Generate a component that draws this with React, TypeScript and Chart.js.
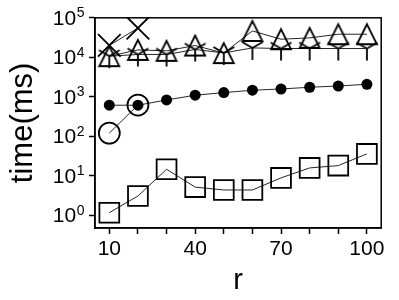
import React, { useEffect, useRef } from "react";
import { Chart, registerables } from "chart.js";

Chart.register(...registerables);

// ---- data ----
const rValues = [10, 20, 30, 40, 50, 60, 70, 80, 90, 100];
const squareTimes = [1.17, 3.1, 14.7, 5.2, 4.4, 4.4, 8.9, 15.9, 18.2, 36];
const dotTimes = [614, 614, 834, 1100, 1280, 1470, 1580, 1750, 1880, 2080];
const openCircleR = [10, 20];
const openCircleTimes = [121, 620];
const crossR = [10, 20];
const crossTimes = [20000, 55000];
const triangleTimes = [10700, 15400, 14600, 19900, 12800, 46500, 28700, 31000, 38400, 38400];
const triDownTimes = [10700, 11800, 11800, 15800, 12900, 17300, 16700, 16700, 16700, 16700];
const xTickValues = [10, 20, 30, 40, 50, 60, 70, 80, 90, 100];
const xLabelValues = [10, 40, 70, 100];
const yTickValues = [1, 10, 100, 1000, 10000, 100000];
const yTickBase = "10";
const yTickExponents = ["0", "1", "2", "3", "4", "5"];

const FONT = "'Liberation Sans', Arial, Helvetica, sans-serif";

function makeTriangle(): HTMLCanvasElement {
  const c = document.createElement("canvas");
  c.width = 24;
  c.height = 24;
  const ctx = c.getContext("2d")!;
  ctx.strokeStyle = "#000";
  ctx.lineWidth = 1.8;
  ctx.lineJoin = "miter";
  ctx.beginPath();
  ctx.moveTo(12, 2);
  ctx.lineTo(2, 22);
  ctx.lineTo(22, 22);
  ctx.closePath();
  ctx.stroke();
  return c;
}

function makeTriDown(): HTMLCanvasElement {
  const c = document.createElement("canvas");
  c.width = 28;
  c.height = 28;
  const ctx = c.getContext("2d")!;
  ctx.strokeStyle = "#000";
  ctx.lineWidth = 1.8;
  ctx.beginPath();
  ctx.moveTo(14, 14);
  ctx.lineTo(14, 26);
  ctx.moveTo(14, 14);
  ctx.lineTo(14 - 10.4, 14 - 6);
  ctx.moveTo(14, 14);
  ctx.lineTo(14 + 10.4, 14 - 6);
  ctx.stroke();
  return c;
}

const framePlugin = {
  id: "frame",
  afterDraw(chart: any) {
    const { ctx, chartArea } = chart;
    ctx.save();
    ctx.strokeStyle = "#000";
    ctx.lineWidth = 1.5;
    ctx.strokeRect(chartArea.left, chartArea.top, chartArea.right - chartArea.left, chartArea.bottom - chartArea.top);
    ctx.restore();
  },
};

// draws y tick labels as 10 with a raised exponent
const powerLabelPlugin = {
  id: "powerLabels",
  afterDraw(chart: any) {
    const { ctx } = chart;
    const yScale = chart.scales.y;
    const rightEdge = yScale.right - 6 - 5;
    ctx.save();
    ctx.fillStyle = "#000";
    ctx.textBaseline = "alphabetic";
    yTickValues.forEach((v, i) => {
      const py = yScale.getPixelForValue(v);
      const exp = yTickExponents[i];
      ctx.font = `14px ${FONT}`;
      const expW = ctx.measureText(exp).width;
      ctx.textAlign = "right";
      ctx.fillText(exp, rightEdge + 0.5, py - 0.5);
      ctx.font = `21px ${FONT}`;
      ctx.fillText(yTickBase, rightEdge + 0.5 - expW - 0.5, py + 7);
    });
    ctx.restore();
  },
};

export default function App() {
  const ref = useRef<HTMLCanvasElement | null>(null);

  useEffect(() => {
    if (!ref.current) return;
    const tri = makeTriangle();
    const triDown = makeTriDown();
    const lineColor = "rgba(0,0,0,0.85)";

    const chart = new Chart(ref.current, {
      type: "line",
      data: {
        datasets: [
          {
            label: "square",
            data: rValues.map((r, i) => ({ x: r, y: squareTimes[i] })),
            borderColor: lineColor,
            borderWidth: 1,
            pointStyle: "rect",
            pointRadius: 14,
            pointBorderWidth: 1.8,
            pointBorderColor: "#000",
            pointBackgroundColor: "rgba(0,0,0,0)",
          },
          {
            label: "dot",
            data: rValues.map((r, i) => ({ x: r, y: dotTimes[i] })),
            borderColor: lineColor,
            borderWidth: 1,
            pointStyle: "circle",
            pointRadius: 5.5,
            pointBorderWidth: 0,
            pointBackgroundColor: "#000",
          },
          {
            label: "open circle",
            data: openCircleR.map((r, i) => ({ x: r, y: openCircleTimes[i] })),
            borderColor: lineColor,
            borderWidth: 1,
            pointStyle: "circle",
            pointRadius: 10.5,
            pointBorderWidth: 1.8,
            pointBorderColor: "#000",
            pointBackgroundColor: "rgba(0,0,0,0)",
          },
          {
            label: "cross",
            data: crossR.map((r, i) => ({ x: r, y: crossTimes[i] })),
            borderColor: lineColor,
            borderWidth: 1,
            pointStyle: "crossRot",
            pointRadius: 16,
            pointBorderWidth: 1.8,
            pointBorderColor: "#000",
          },
          {
            label: "triangle",
            data: rValues.map((r, i) => ({ x: r, y: triangleTimes[i] })),
            borderColor: lineColor,
            borderWidth: 1,
            pointStyle: tri,
            pointRadius: 10,
          },
          {
            label: "tri down",
            data: rValues.map((r, i) => ({ x: r, y: triDownTimes[i] })),
            borderColor: lineColor,
            borderWidth: 1,
            pointStyle: triDown,
            pointRadius: 10,
          },
        ],
      },
      options: {
        animation: false,
        responsive: false,
        events: [],
        layout: { padding: { top: 17, right: 13, left: 0, bottom: 0 } },
        plugins: { legend: { display: false }, tooltip: { enabled: false } },
        scales: {
          x: {
            type: "linear",
            min: 5,
            max: 105,
            afterFit: (s: any) => {
              s.height = 72;
            },
            afterBuildTicks: (s: any) => {
              s.ticks = xTickValues.map((v) => ({ value: v }));
            },
            ticks: {
              autoSkip: false,
              maxRotation: 0,
              color: "#000",
              padding: 3,
              font: { family: FONT, size: 21 },
              callback: (v: any) => (xLabelValues.includes(Number(v)) ? String(v) : ""),
            },
            grid: { drawOnChartArea: false, drawTicks: true, tickLength: 6, tickWidth: 1.5, tickColor: "#000" },
            border: { display: true, color: "#000", width: 1.5 },
            title: {
              display: true,
              text: "r",
              color: "#000",
              font: { family: FONT, size: 29 },
              padding: { top: 0, bottom: 2 },
            },
          },
          y: {
            type: "logarithmic",
            min: 0.48,
            max: 100000,
            afterFit: (s: any) => {
              s.width = 95;
            },
            afterBuildTicks: (s: any) => {
              s.ticks = yTickValues.map((v) => ({ value: v }));
            },
            ticks: {
              display: false,
              autoSkip: false,
              callback: (v: any) => yTickBase + "^" + Math.round(Math.log10(Number(v))),
            },
            grid: { drawOnChartArea: false, drawTicks: true, tickLength: 6, tickWidth: 1.5, tickColor: "#000" },
            border: { display: true, color: "#000", width: 1.5 },
            title: {
              display: true,
              text: "time(ms)",
              color: "#000",
              font: { family: FONT, size: 31 },
              padding: { top: 5, bottom: 0 },
            },
          },
        },
      },
      plugins: [framePlugin, powerLabelPlugin],
    });
    return () => chart.destroy();
  }, []);

  return (
    <div style={{ position: "fixed", left: 0, top: 0, width: 399, height: 300, background: "#fff" }}>
      <canvas ref={ref} width={399} height={300} style={{ display: "block" }} />
    </div>
  );
}
